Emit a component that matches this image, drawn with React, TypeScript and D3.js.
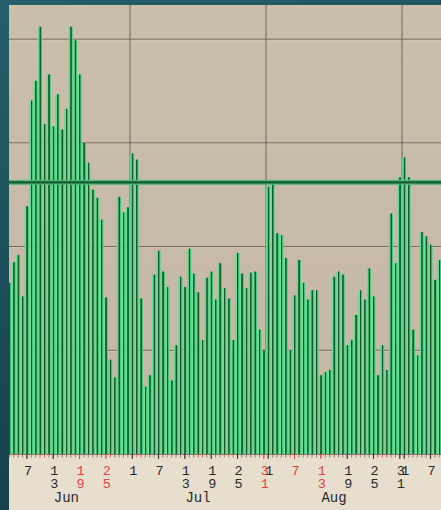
import React from "react";
import * as d3 from "d3";

const startDate = "2016-06-03";
const values = [
  16.5, 18.5, 19.2, 15.2, 23.9, 34.1, 36.0, 41.2, 31.8, 36.6,
  31.6, 34.7, 31.3, 33.3, 41.2, 39.9, 36.6, 30.0, 28.1, 25.5,
  24.7, 22.6, 15.1, 9.1, 7.4, 24.8, 23.3, 23.8, 29.0, 28.4,
  15.0, 6.5, 7.6, 17.3, 19.6, 17.6, 16.1, 7.1, 10.5, 17.1,
  16.1, 19.8, 17.4, 15.6, 11.0, 17.0, 17.6, 14.9, 18.4, 16.0,
  15.0, 11.0, 19.4, 17.4, 16.0, 17.5, 17.6, 12.0, 10.0, 25.8,
  26.1, 21.3, 21.1, 18.9, 10.0, 15.3, 18.7, 16.5, 14.9, 15.8,
  15.8, 7.6, 7.9, 8.1, 17.1, 17.6, 17.3, 10.5, 11.0, 13.4,
  15.8, 14.9, 17.9, 15.2, 7.6, 10.5, 8.1, 23.2, 18.4, 26.7,
  28.6, 26.7, 12.0, 9.5, 21.4, 21.0, 20.2, 16.8, 18.7,
];
const thresholdValue = 26.2;
const yTicks = [10, 20, 30, 40];
const tickDates = [
  "2016-06-07", "2016-06-13", "2016-06-19", "2016-06-25",
  "2016-07-01", "2016-07-07", "2016-07-13", "2016-07-19", "2016-07-25", "2016-07-31",
  "2016-08-01", "2016-08-07", "2016-08-13", "2016-08-19", "2016-08-25", "2016-08-31",
  "2016-09-01", "2016-09-07",
];
const monthLabels = ["Jun", "Jul", "Aug"];
const monthLabelDates = ["2016-06-16", "2016-07-16", "2016-08-16"];
const monthBoundaries = ["2016-07-01", "2016-08-01", "2016-09-01"];

const W = 441;
const H = 510;
const plotLeft = 9;
const plotTop = 5;
const baseY = 454;

const parse = (s: string) => {
  const [y, m, d] = s.split("-").map(Number);
  return new Date(y, m - 1, d);
};

export default function App() {
  const start = parse(startDate);
  const dates = values.map((_, i) => d3.timeDay.offset(start, i));
  const step = 4.387;
  const x = d3
    .scaleTime()
    .domain([start, d3.timeDay.offset(start, values.length)])
    .range([7.2, 7.2 + step * values.length]);
  const y = d3.scaleLinear().domain([0, 10]).range([baseY, baseY - 103.7]);
  const isWeekend = (d: Date) => d.getDay() === 0 || d.getDay() === 6;
  const center = (d: Date) => x(d) + step / 2;
  const font = "'Liberation Mono', 'DejaVu Sans Mono', monospace";

  return (
    <div style={{ position: "fixed", left: 0, top: 0 }}>
      <svg width={W} height={H} style={{ display: "block" }}>
        <defs>
          <linearGradient id="outer" x1="0" y1="0" x2="0.3" y2="1">
            <stop offset="0%" stopColor="#245f6b" />
            <stop offset="100%" stopColor="#163d4a" />
          </linearGradient>
          <linearGradient id="plotbg" x1="0" y1="0" x2="0" y2="1">
            <stop offset="0%" stopColor="#cbbfac" />
            <stop offset="100%" stopColor="#c5b5a5" />
          </linearGradient>
          <linearGradient id="bar" x1="0" y1="0" x2="1" y2="0">
            <stop offset="0%" stopColor="#5fd88e" />
            <stop offset="32%" stopColor="#6ae39a" />
            <stop offset="42%" stopColor="#1b7a3e" />
            <stop offset="52%" stopColor="#0e5327" />
            <stop offset="66%" stopColor="#13602f" />
            <stop offset="78%" stopColor="#42c176" />
            <stop offset="100%" stopColor="#58d188" />
          </linearGradient>
          <clipPath id="plotclip">
            <rect x={plotLeft} y={plotTop} width={W - plotLeft} height={baseY - plotTop} />
          </clipPath>
        </defs>
        <rect x={0} y={0} width={W} height={H} fill="url(#outer)" />
        <rect x={plotLeft} y={plotTop} width={W - plotLeft} height={baseY - plotTop} fill="url(#plotbg)" />
        <rect x={plotLeft} y={baseY} width={W - plotLeft} height={H - baseY} fill="#e8dece" />
        <g clipPath="url(#plotclip)">
          {yTicks.map((t) => (
            <g key={t}>
              <line x1={plotLeft} x2={W} y1={y(t)} y2={y(t)} stroke="#6f6258" strokeWidth={1} />
              <line x1={plotLeft} x2={W} y1={y(t) + 1} y2={y(t) + 1} stroke="#ddd2c2" strokeWidth={0.8} opacity={0.6} />
            </g>
          ))}
          {monthBoundaries.map((m) => (
            <line key={m} x1={x(parse(m))} x2={x(parse(m))} y1={plotTop} y2={baseY} stroke="#6f6258" strokeWidth={1} />
          ))}
          {values.map((v, i) => (
            <rect
              key={i}
              x={x(dates[i])}
              y={y(v)}
              width={step - 0.2}
              height={baseY - y(v)}
              fill="url(#bar)"
            />
          ))}
          <rect x={plotLeft} y={y(thresholdValue) - 2.5} width={W - plotLeft} height={5} fill="#4fb877" />
          <line x1={plotLeft} x2={W} y1={y(thresholdValue)} y2={y(thresholdValue)} stroke="#17592f" strokeWidth={2.2} />
        </g>
        <line x1={plotLeft} x2={W} y1={baseY + 0.5} y2={baseY + 0.5} stroke="#8a6e66" strokeWidth={1} />
        {dates.map((d, i) => (
          <line
            key={i}
            x1={center(d)}
            x2={center(d)}
            y1={baseY}
            y2={baseY + 3.5}
            stroke={isWeekend(d) ? "#d8605c" : "#8d7d73"}
            strokeWidth={1}
          />
        ))}
        {tickDates.map((s) => {
          const d = parse(s);
          const digits = String(d.getDate()).split("");
          const col = isWeekend(d) ? "#e04545" : "#2a2a2a";
          return (
            <g key={s}>
              <line x1={center(d)} x2={center(d)} y1={baseY} y2={baseY + 5} stroke={col} strokeWidth={1} />
              {digits.map((c, k) => (
                <text
                  key={k}
                  x={center(d) + 1}
                  y={475 + k * 13}
                  fontFamily={font}
                  fontSize={13.5}
                  fill={col}
                  textAnchor="middle"
                >
                  {c}
                </text>
              ))}
            </g>
          );
        })}
        {monthLabels.map((m, i) => (
          <text
            key={m}
            x={center(parse(monthLabelDates[i]))}
            y={502}
            fontFamily={font}
            fontSize={14}
            fill="#2a2a2a"
            textAnchor="middle"
          >
            {m}
          </text>
        ))}
      </svg>
    </div>
  );
}
